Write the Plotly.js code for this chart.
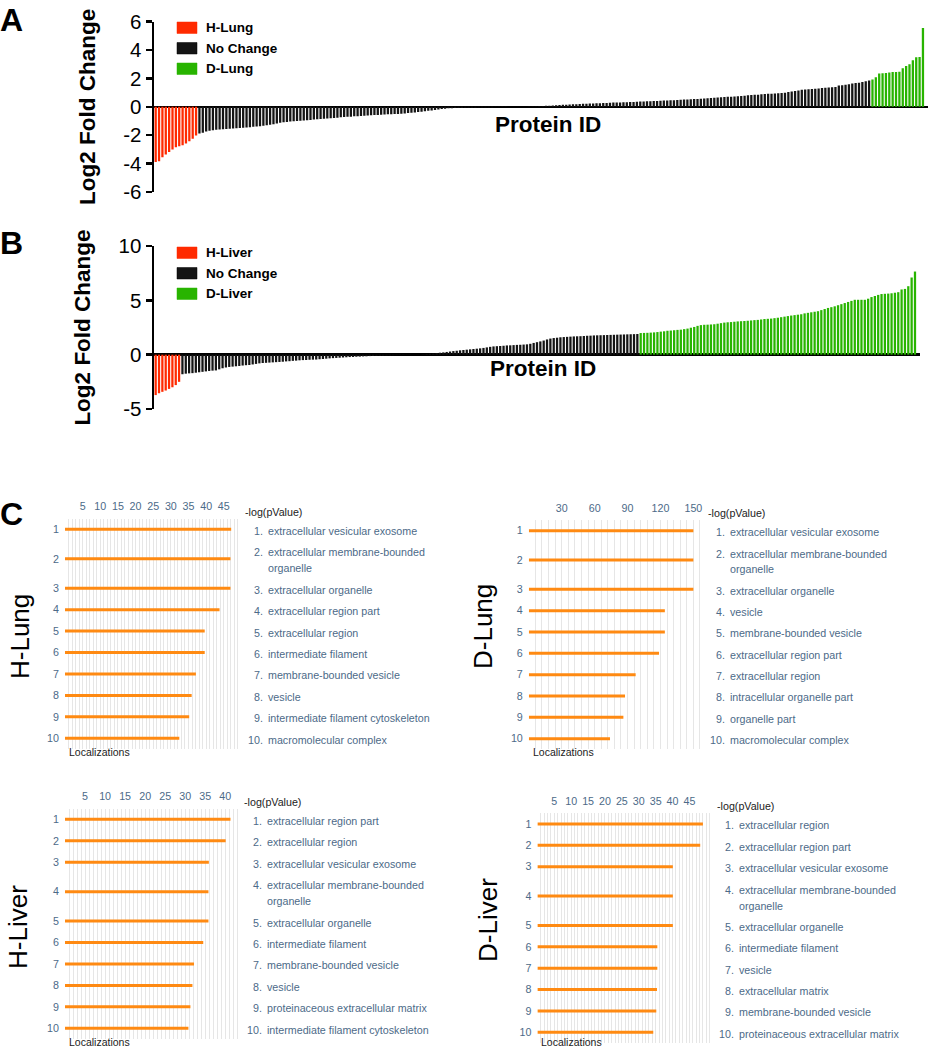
<!DOCTYPE html>
<html><head><meta charset="utf-8">
<script src="https://cdn.plot.ly/plotly-3.0.1.min.js"></script>
<style>html,body{margin:0;padding:0;background:#fff}#chart{width:929px;height:1050px}</style>
</head><body><div id="chart"></div>
<script>
// ================= DATA =================
// Panel A: log2 fold change, lung proteins (sorted)
const lungRed = [-3.88,-3.84,-3.55,-3.36,-3.18,-3.0,-2.84,-2.77,-2.71,-2.59,-2.42,-2.24,-2.02];
const lungBlack = [
 -1.88,-1.82,-1.74,-1.68,-1.65,-1.62,-1.6,-1.58,-1.56,-1.55,
 -1.53,-1.51,-1.49,-1.47,-1.45,-1.43,-1.41,-1.39,-1.36,-1.33,
 -1.3,-1.27,-1.22,-1.17,-1.12,-1.09,-1.06,-1.04,-1.02,-1.0,
 -0.98,-0.96,-0.94,-0.92,-0.9,-0.88,-0.86,-0.84,-0.82,-0.8,
 -0.78,-0.76,-0.74,-0.72,-0.7,-0.69,-0.67,-0.66,-0.64,-0.63,
 -0.61,-0.6,-0.58,-0.57,-0.55,-0.54,-0.53,-0.52,-0.51,-0.5,
 -0.48,-0.46,-0.44,-0.42,-0.4,-0.37,-0.34,-0.31,-0.28,-0.25,
 -0.22,-0.19,-0.16,-0.13,-0.1,-0.09,-0.08,-0.07,-0.06,-0.05,
 -0.05,-0.04,-0.04,-0.03,-0.03,-0.02,-0.02,-0.02,-0.01,-0.01,
 -0.01,-0.01,0,0,0,0.01,0.01,0.01,0.02,0.02,
 0.03,0.04,0.05,0.07,0.08,0.1,0.11,0.13,0.14,0.15,
 0.17,0.18,0.19,0.2,0.21,0.22,0.23,0.24,0.25,0.26,
 0.27,0.28,0.29,0.3,0.3,0.31,0.32,0.33,0.34,0.35,
 0.36,0.37,0.38,0.39,0.4,0.41,0.42,0.43,0.44,0.45,
 0.46,0.47,0.48,0.5,0.51,0.52,0.53,0.55,0.56,0.57,
 0.58,0.6,0.62,0.64,0.66,0.68,0.7,0.71,0.72,0.73,
 0.75,0.77,0.79,0.82,0.84,0.85,0.86,0.88,0.9,0.92,
 0.93,0.94,0.95,0.97,1.0,1.04,1.08,1.12,1.16,1.2,
 1.22,1.24,1.26,1.28,1.3,1.32,1.34,1.36,1.38,1.4,
 1.5,1.53,1.55,1.6,1.65,1.68,1.7,1.75,1.8,1.86];
const lungGreen = [1.92,2.08,2.35,2.37,2.38,2.42,2.45,2.46,2.47,2.72,2.88,3.0,3.28,3.5,3.52,5.55];
const lungLegend = ['H-Lung','No Change','D-Lung'];

// Panel B: log2 fold change, liver proteins (sorted)
const liverRed = [-3.72,-3.55,-3.42,-3.3,-3.15,-3.0,-2.8,-2.5];
const liverBlack = [
 -1.8,-1.75,-1.72,-1.7,-1.66,-1.62,-1.58,-1.54,-1.5,-1.47,
 -1.45,-1.35,-1.25,-1.18,-1.13,-1.1,-1.07,-1.04,-1.0,-0.97,
 -0.95,-0.9,-0.85,-0.8,-0.77,-0.75,-0.73,-0.71,-0.69,-0.67,
 -0.65,-0.62,-0.6,-0.57,-0.55,-0.52,-0.5,-0.49,-0.47,-0.46,
 -0.45,-0.42,-0.4,-0.37,-0.34,-0.32,-0.3,-0.28,-0.26,-0.24,
 -0.22,-0.21,-0.19,-0.18,-0.16,-0.15,-0.13,-0.12,-0.1,-0.09,
 -0.08,-0.07,-0.06,-0.05,-0.04,-0.03,-0.03,-0.02,-0.02,-0.01,
 -0.01,0,0.03,0.06,0.08,0.1,0.14,0.18,0.21,0.25,
 0.29,0.33,0.36,0.4,0.43,0.46,0.49,0.52,0.55,0.58,
 0.62,0.67,0.72,0.76,0.78,0.8,0.82,0.85,0.86,0.88,
 0.9,0.91,0.93,0.95,1.0,1.08,1.15,1.22,1.3,1.4,
 1.48,1.53,1.56,1.6,1.62,1.64,1.66,1.68,1.69,1.7,
 1.72,1.74,1.75,1.77,1.78,1.79,1.8,1.81,1.82,1.83,
 1.84,1.85,1.86,1.87,1.88,1.89,1.9];
const liverGreen = [
 1.99,2.0,2.01,2.03,2.05,2.08,2.12,2.15,2.2,2.22,
 2.25,2.28,2.3,2.35,2.4,2.48,2.55,2.65,2.72,2.75,
 2.76,2.78,2.8,2.85,2.9,2.95,2.98,3.0,3.03,3.06,
 3.08,3.1,3.12,3.15,3.18,3.2,3.24,3.28,3.3,3.32,
 3.36,3.4,3.45,3.5,3.55,3.6,3.64,3.68,3.72,3.8,
 3.85,3.9,3.95,4.0,4.1,4.2,4.3,4.37,4.45,4.55,
 4.65,4.75,4.85,4.95,5.05,5.05,5.05,5.05,5.15,5.3,
 5.4,5.5,5.58,5.6,5.62,5.65,5.7,5.75,6.0,6.05,
 6.3,7.1,7.65];
const liverLegend = ['H-Liver','No Change','D-Liver'];

// Panel C: -log(pValue) of localizations
const hLungTerms = ['extracellular vesicular exosome','extracellular membrane-bounded organelle','extracellular organelle','extracellular region part','extracellular region','intermediate filament','membrane-bounded vesicle','vesicle','intermediate filament cytoskeleton','macromolecular complex'];
const hLungValues = [47.1,46.9,46.9,43.8,39.6,39.6,37.1,35.9,35.2,32.4];
const hLungTicks = [5,10,15,20,25,30,35,40,45];
const dLungTerms = ['extracellular vesicular exosome','extracellular membrane-bounded organelle','extracellular organelle','vesicle','membrane-bounded vesicle','extracellular region part','extracellular region','intracellular organelle part','organelle part','macromolecular complex'];
const dLungValues = [150,150,150,124,124,118.7,97.4,87.7,86.2,74];
const dLungTicks = [30,60,90,120,150];
const hLiverTerms = ['extracellular region part','extracellular region','extracellular vesicular exosome','extracellular membrane-bounded organelle','extracellular organelle','intermediate filament','membrane-bounded vesicle','vesicle','proteinaceous extracellular matrix','intermediate filament cytoskeleton'];
const hLiverValues = [41.3,40.1,35.9,35.8,35.8,34.5,32.2,31.8,31.3,30.8];
const hLiverTicks = [5,10,15,20,25,30,35,40];
const dLiverTerms = ['extracellular region','extracellular region part','extracellular vesicular exosome','extracellular membrane-bounded organelle','extracellular organelle','intermediate filament','vesicle','extracellular matrix','membrane-bounded vesicle','proteinaceous extracellular matrix'];
const dLiverValues = [49,48.2,40.1,40.1,40.1,35.5,35.5,35.4,35.2,34.3];
const dLiverTicks = [5,10,15,20,25,30,35,40,45];

// ================= LAYOUT HELPERS =================
const W = 929, H = 1050;
const px = v => v / W;
const py = v => 1 - v / H;
const FONT = 'Liberation Sans, Arial, Helvetica, sans-serif';
const RED = '#ff2a00', BLACK = '#141414', GREEN = '#28b400';
const ORANGE = '#ff8a12', LABEL = '#4c6a88', DARK = '#222222', GRID = '#e6e6e6';

const traces = [];
const annotations = [];
const shapes = [];
const layout = {
  width: W, height: H, margin: {l:0, r:0, t:0, b:0},
  paper_bgcolor: '#fff', plot_bgcolor: 'rgba(0,0,0,0)',
  barmode: 'overlay', showlegend: false,
  font: {family: FONT, color: '#000'}
};

function ranks(start, n) { const a = []; for (let i = 0; i < n; i++) a.push(start + i); return a; }

// ---------- Panels A & B (fold-change waterfall) ----------
function foldPanel(opt) {
  const {xid, yid, red, black, green, legend, xr, yTop, yBot, yRange, tickv, extra, legTop, protein} = opt;
  const n = red.length + black.length + green.length;
  const groups = [[red, RED], [black, BLACK], [green, GREEN]];
  let start = 1;
  groups.forEach(([vals, col], gi) => {
    traces.push({type:'bar', x: ranks(start, vals.length), y: vals, xaxis: xid, yaxis: yid,
      width: 0.68, marker: {color: col, line: {width: 0}}, name: legend[gi], hoverinfo: 'y'});
    start += vals.length;
  });
  const xk = xid === 'x' ? 'xaxis' : 'xaxis' + xid.slice(1);
  const yk = yid === 'y' ? 'yaxis' : 'yaxis' + yid.slice(1);
  layout[xk] = {domain: [px(xr[0]), px(xr[1])], range: [0.5, n + 0.5 + extra], anchor: yid,
    showticklabels: false, ticks: '', showgrid: false, zeroline: false, showline: false, fixedrange: true};
  layout[yk] = {domain: [py(yBot), py(yTop)], range: yRange, anchor: xid,
    tickvals: tickv, ticktext: tickv.map(v => String(v)),
    showline: true, linecolor: '#000', linewidth: 2.5, ticks: 'outside', ticklen: 6, tickwidth: 2.5, tickcolor: '#000',
    tickfont: {family: FONT, size: 20.5, color: '#000'},
    showgrid: false, zeroline: true, zerolinecolor: '#000', zerolinewidth: 2.5, fixedrange: true,
    title: {text: 'Log2 Fold Change', font: {family: FONT, size: 22.5, weight: 'bold', color: '#000'}, standoff: 22}};
  const cols = [RED, BLACK, GREEN];
  legend.forEach((t, i) => {
    const top = legTop + i * 20.5;
    shapes.push({type: 'rect', xref: 'paper', yref: 'paper', x0: px(177), x1: px(197), y0: py(top + 11.5), y1: py(top),
      fillcolor: cols[i], line: {color: i === 1 ? '#000' : cols[i], width: 0.5}});
    annotations.push({xref: 'paper', yref: 'paper', x: px(204), y: py(top + 5.75), xanchor: 'left', yanchor: 'middle',
      text: t, showarrow: false, font: {family: FONT, size: 13.5, weight: 'bold', color: '#000'}});
  });
  annotations.push({xref: 'paper', yref: 'paper', x: px(protein[0]), y: py(protein[1]), xanchor: 'center', yanchor: 'middle',
    text: 'Protein ID', showarrow: false, font: {family: FONT, size: 22.5, weight: 'bold', color: '#000'}});
}

foldPanel({xid: 'x', yid: 'y', red: lungRed, black: lungBlack, green: lungGreen, legend: lungLegend,
  xr: [154, 928], yTop: 21.7, yBot: 192, yRange: [-6, 6], tickv: [-6,-4,-2,0,2,4,6], extra: 1,
  legTop: 22, protein: [548, 124]});
foldPanel({xid: 'x2', yid: 'y2', red: liverRed, black: liverBlack, green: liverGreen, legend: liverLegend,
  xr: [154, 920], yTop: 246, yBot: 409, yRange: [-5, 10], tickv: [-5,0,5,10], extra: 1,
  legTop: 247, protein: [543, 368]});

// ---------- Panel C (localization enrichment) ----------
function wrapTerm(t) {
  if (t.length <= 36) return [t];
  const i = t.lastIndexOf(' ', 32);
  return [t.slice(0, i), t.slice(i + 1)];
}
function rowLayout(terms) {
  let pos = 0; const centers = [], bounds = [0], lines = [];
  terms.forEach(t => {
    const w = wrapTerm(t); lines.push(w);
    const h = 1 + 0.75 * (w.length - 1);
    centers.push(pos + h / 2); pos += h; bounds.push(pos);
  });
  return {centers, bounds, total: pos, lines};
}

const cPanels = [
  {name: 'H-Lung', terms: hLungTerms, values: hLungValues, ticks: hLungTicks, xr: [65, 240], yr: [518.6, 749], max: 49.6, dtick: 5, rot: [20, 637], loc: [67, 752]},
  {name: 'D-Lung', terms: dLungTerms, values: dLungValues, ticks: dLungTicks, xr: [528.8, 702.7], yr: [520, 749.3], max: 158.5, dtick: 30, rot: [483, 627], loc: [531, 752]},
  {name: 'H-Liver', terms: hLiverTerms, values: hLiverValues, ticks: hLiverTicks, xr: [65, 239.3], yr: [808.6, 1039], max: 43.5, dtick: 5, rot: [18, 927], loc: [67, 1041.5]},
  {name: 'D-Liver', terms: dLiverTerms, values: dLiverValues, ticks: dLiverTicks, xr: [537.4, 711.7], yr: [813.3, 1043], max: 51.6, dtick: 5, rot: [488, 920], loc: [539, 1041.5]}
];

cPanels.forEach((p, k) => {
  const xn = 3 + k, ym = 3 + 2 * k, yo = 4 + 2 * k;
  const xid = 'x' + xn, yid = 'y' + ym;
  const rows = rowLayout(p.terms);
  traces.push({type: 'bar', orientation: 'h', x: p.values, y: rows.centers, xaxis: xid, yaxis: yid,
    width: 0.14, marker: {color: ORANGE, line: {width: 0}}, name: p.name, hoverinfo: 'x'});
  layout['xaxis' + xn] = {domain: [px(p.xr[0]), px(p.xr[1])], range: [0, p.max], anchor: yid, side: 'top',
    tickvals: p.ticks, ticktext: p.ticks.map(String), ticks: '', showline: false, zeroline: false,
    showgrid: true, gridcolor: GRID, gridwidth: 1,
    minor: {tick0: 0, dtick: p.dtick / 5, showgrid: true, gridcolor: GRID, gridwidth: 1, ticks: ''},
    tickfont: {family: FONT, size: 10.7, color: LABEL}, ticklabelstandoff: 5, fixedrange: true};
  layout['yaxis' + ym] = {domain: [py(p.yr[1]), py(p.yr[0])], range: [rows.total, 0], anchor: xid,
    tickvals: rows.centers, ticktext: p.terms.map((_, i) => String(i + 1)), ticks: '',
    showline: false, showgrid: false, zeroline: false,
    tickfont: {family: FONT, size: 10.7, color: LABEL}, ticklabelstandoff: 5, fixedrange: true};
  layout['yaxis' + yo] = {overlaying: yid, anchor: xid, side: 'left', range: [rows.total, 0],
    tickvals: rows.bounds, showticklabels: false, ticks: 'outside', ticklen: 3, tickwidth: 1, tickcolor: '#b0b0b0',
    showline: true, linecolor: '#a8a8a8', linewidth: 1, mirror: 'ticks',
    showgrid: false, zeroline: false, fixedrange: true};
  rows.lines.forEach((ls, i) => {
    const c = rows.centers[i];
    const ys = ls.length === 1 ? [c] : [c - 0.375, c + 0.375];
    annotations.push({xref: 'paper', yref: yid, x: px(p.xr[1] + 24.5), y: ys[0], xanchor: 'right', yanchor: 'middle',
      yshift: -1.5, text: (i + 1) + '.', showarrow: false, font: {family: FONT, size: 10.7, color: LABEL}});
    ls.forEach((line, j) => {
      annotations.push({xref: 'paper', yref: yid, x: px(p.xr[1] + 25.5), y: ys[j], xanchor: 'left', yanchor: 'middle',
        yshift: -1.5, text: line, showarrow: false, font: {family: FONT, size: 10.7, color: LABEL}});
    });
  });
  annotations.push({xref: xid + ' domain', yref: yid + ' domain', x: 1, y: 1, xshift: 3, yshift: 7,
    xanchor: 'left', yanchor: 'middle', text: '-log(pValue)', showarrow: false,
    font: {family: FONT, size: 10.7, color: DARK}});
  annotations.push({xref: 'paper', yref: 'paper', x: px(p.loc[0]), y: py(p.loc[1]), xanchor: 'left', yanchor: 'middle',
    text: 'Localizations', showarrow: false, font: {family: FONT, size: 10.5, color: DARK}});
  annotations.push({xref: 'paper', yref: 'paper', x: px(p.rot[0]), y: py(p.rot[1]), xanchor: 'center', yanchor: 'middle',
    textangle: -90, text: p.name, showarrow: false, font: {family: FONT, size: 26, color: '#000'}});
});

[['A', 20], ['B', 243], ['C', 514]].forEach(([t, y]) => {
  annotations.push({xref: 'paper', yref: 'paper', x: 0, y: py(y), xanchor: 'left', yanchor: 'middle', xshift: -2,
    text: t, showarrow: false, font: {family: FONT, size: 32, weight: 'bold', color: '#000'}});
});

layout.annotations = annotations;
layout.shapes = shapes;

Plotly.newPlot('chart', traces, layout, {displayModeBar: false, staticPlot: true});
</script>
</body></html>
